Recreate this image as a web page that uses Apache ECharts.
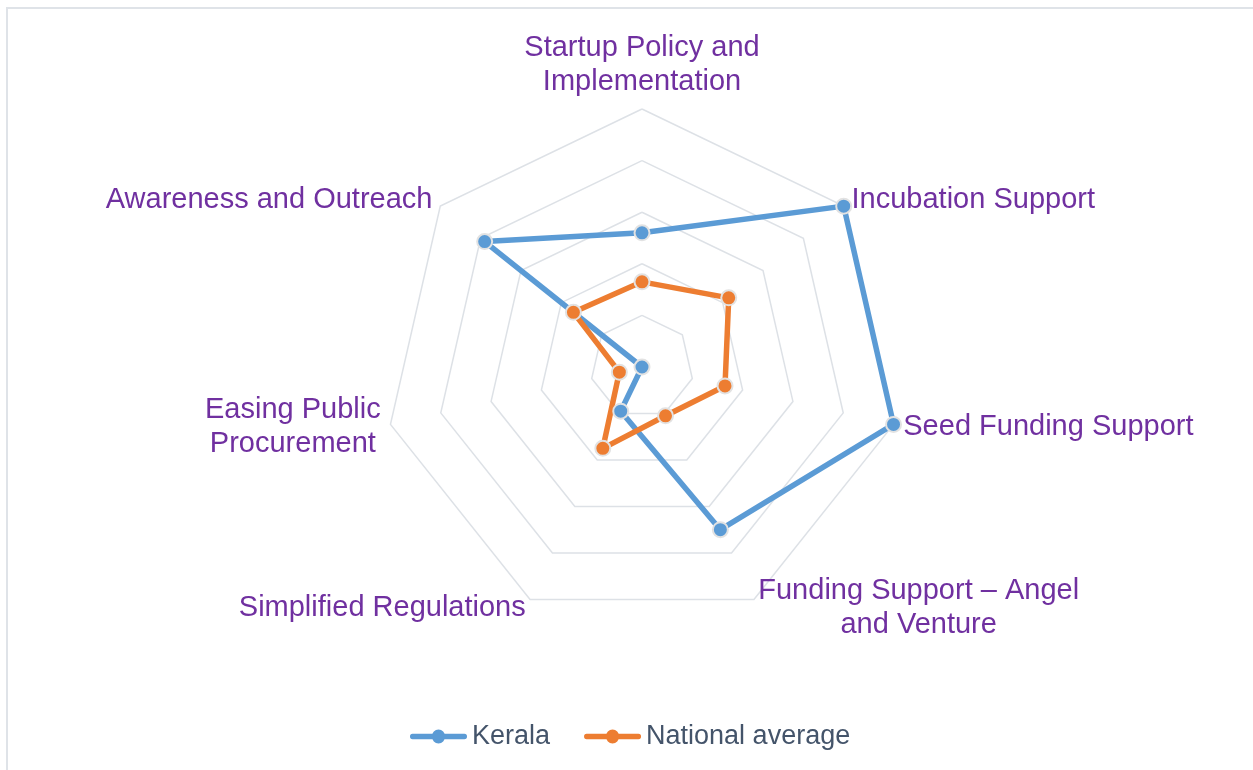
<!DOCTYPE html>
<html>
<head>
<meta charset="utf-8">
<script src="https://cdn.jsdelivr.net/npm/echarts@6/dist/echarts.min.js"></script>
<style>
  html, body { margin: 0; padding: 0; background: #ffffff; }
  #main { width: 1253px; height: 770px; }
</style>
</head>
<body>
<div id="main"></div>
<script>
// indicators listed counter-clockwise from the top (echarts radar order)
var indicatorNames = [
  'Startup Policy and\nImplementation',
  'Awareness and Outreach',
  'Easing Public\nProcurement',
  'Simplified Regulations',
  'Funding Support – Angel\nand Venture',
  'Seed Funding Support',
  'Incubation Support'
];
var maxValue = 100;
var keralaValues = [52, 78, 0, 19, 70, 100, 100];
var nationalValues = [33, 34, 9, 35, 21, 33, 43];
var seriesNames = ['Kerala', 'National average'];

var blue = '#5b9bd5';
var orange = '#ed7d31';
// line with a dot in the middle, like the original legend
var legendIcon = 'path://M3,4.5 H54 A2.5,2.5 0 0 1 54,9.5 H3 A2.5,2.5 0 0 1 3,4.5 Z M28.5,0.5 A6.5,6.5 0 1 1 28.5,13.5 A6.5,6.5 0 1 1 28.5,0.5 Z';

var chart = echarts.init(document.getElementById('main'), null, { renderer: 'canvas' });

var indicators = [];
for (var i = 0; i < indicatorNames.length; i++) {
  indicators.push({ name: indicatorNames[i], max: maxValue });
}

var option = {
  backgroundColor: '#ffffff',
  animation: false,
  graphic: [{
    type: 'rect',
    shape: { x: 7, y: 8, width: 1400, height: 900 },
    style: { fill: 'none', stroke: '#dfe3e8', lineWidth: 2 },
    silent: true
  }],
  legend: {
    left: 410,
    top: 723,
    padding: 0,
    itemWidth: 57,
    itemHeight: 14,
    itemGap: 34,
    icon: legendIcon,
    symbolKeepAspect: false,
    itemStyle: { borderWidth: 0 },
    textStyle: { color: '#44546a', fontSize: 27, fontFamily: 'Liberation Sans' },
    data: seriesNames
  },
  radar: {
    center: [642, 367],
    radius: 258,
    startAngle: 90,
    splitNumber: 5,
    shape: 'polygon',
    nameGap: 10,
    indicator: indicators,
    axisName: {
      formatter: function (name) {
        return name.split('\n').map(function (s) { return '{c|' + s + '}'; }).join('\n');
      },
      rich: {
        c: {
          align: 'center',
          color: '#7030a0',
          fontSize: 29,
          lineHeight: 34,
          fontFamily: 'Liberation Sans'
        }
      }
    },
    axisLine: { show: false },
    axisTick: { show: false },
    axisLabel: { show: false },
    splitArea: { show: false },
    splitLine: { lineStyle: { color: '#dde1e6', width: 1.5 } }
  },
  series: [{
    type: 'radar',
    symbol: 'circle',
    symbolSize: 15,
    data: [{
      name: seriesNames[0],
      value: keralaValues,
      lineStyle: { color: blue, width: 5.5 },
      itemStyle: { color: blue, borderColor: '#e2e2e2', borderWidth: 2 }
    }, {
      name: seriesNames[1],
      value: nationalValues,
      lineStyle: { color: orange, width: 5.5 },
      itemStyle: { color: orange, borderColor: '#e2e2e2', borderWidth: 2 }
    }]
  }]
};

chart.setOption(option);
</script>
</body>
</html>
